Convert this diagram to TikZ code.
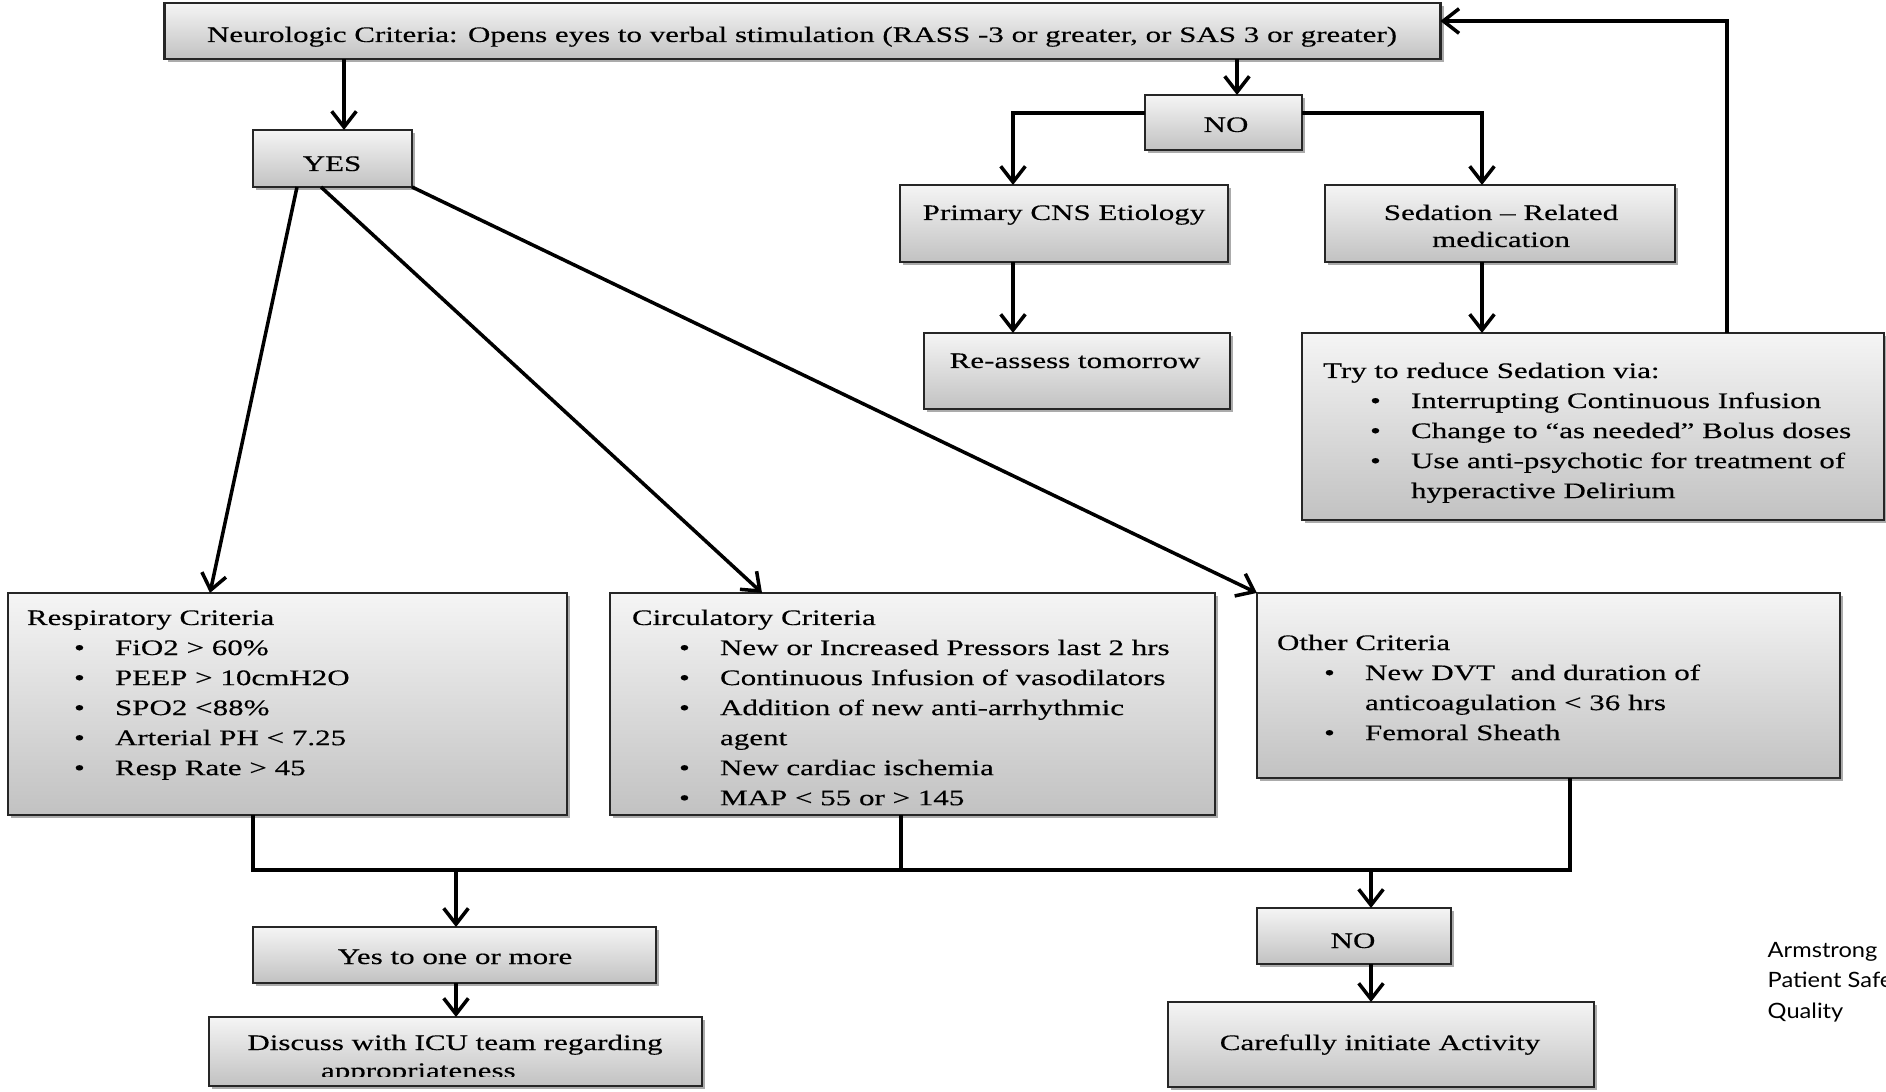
\documentclass[tikz,border=0pt]{standalone}
\usepackage{fontspec}
\setmainfont[FakeStretch=1.4,FakeBold=0.35]{Liberation Serif}
\newfontfamily\gillfont[FakeStretch=1.12]{Lato}
\usetikzlibrary{arrows.meta,shadows}
\newcommand{\bitem}[1]{\hspace*{0.47cm}\makebox[0.41cm][l]{\textbullet}#1}
\newcommand{\contl}[1]{\hspace*{0.88cm}#1}
\begin{document}
\begin{tikzpicture}[x=0.01cm,y=-0.01cm,
  bx/.style={draw=black!85, line width=0.7pt, top color=black!4, bottom color=black!24,
    inner sep=0pt, outer sep=0pt,
    drop shadow={shadow xshift=0.9pt, shadow yshift=-0.9pt, fill=black!60, opacity=0.55}},
  tx/.style={inner sep=0pt, outer sep=0pt, font=\fontsize{6.3}{8.54}\selectfont},
  arr/.style={line width=1pt, -{Straight Barb[length=4.5pt,width=7pt]}},
  ln/.style={line width=1pt}]
\fill[white] (0,0) rectangle (1886,1092);
\useasboundingbox (0,0) rectangle (1886,1092);

% boxes
\node[bx, minimum width=12.75cm, minimum height=0.56cm] (top) at (802.5,31) {};
\node[bx, minimum width=1.59cm, minimum height=0.57cm] (yes) at (332.5,158.5) {};
\node[bx, minimum width=1.57cm, minimum height=0.55cm] (no1) at (1223.5,122.5) {};
\node[bx, minimum width=3.28cm, minimum height=0.77cm] (prim) at (1064,223.5) {};
\node[bx, minimum width=3.50cm, minimum height=0.77cm] (sed) at (1500,223.5) {};
\node[bx, minimum width=3.06cm, minimum height=0.76cm] (reas) at (1077,371) {};
\node[bx, minimum width=5.82cm, minimum height=1.87cm] (try) at (1593,426.5) {};
\node[bx, minimum width=5.59cm, minimum height=2.22cm] (resp) at (287.5,704) {};
\node[bx, minimum width=6.05cm, minimum height=2.22cm] (circ) at (912.5,704) {};
\node[bx, minimum width=5.83cm, minimum height=1.85cm] (other) at (1548.5,685.5) {};
\node[bx, minimum width=4.03cm, minimum height=0.56cm] (yesto) at (454.5,955) {};
\node[bx, minimum width=4.93cm, minimum height=0.69cm] (disc) at (455.5,1051.5) {};
\node[bx, minimum width=1.94cm, minimum height=0.56cm] (no2) at (1354,936) {};
\node[bx, minimum width=4.26cm, minimum height=0.85cm] (care) at (1381,1044.5) {};

% texts
\node[tx, anchor=base] (ttop) at (802,42) {Neurologic Criteria: Opens eyes to verbal stimulation (RASS -3 or greater, or SAS 3 or greater)};
\node[tx, anchor=base] (tyes) at (332,171) {YES};
\node[tx, anchor=base] (tno1) at (1226,132) {NO};
\node[tx, anchor=base] (tprim) at (1064,220) {Primary CNS Etiology};
\node[tx, anchor=base] (tsed) at (1501,220) {\parbox[t]{3.4cm}{\centering\fontsize{6.3}{7.68}\selectfont Sedation – Related\\medication}};
\node[tx, anchor=base] (treas) at (1075,368) {Re-assess tomorrow};
\node[tx, anchor=base west] (ttry) at (1323,378) {\parbox[t]{10cm}{Try to reduce Sedation via:\\
  \bitem{Interrupting Continuous Infusion}\\
  \bitem{Change to “as needed” Bolus doses}\\
  \bitem{Use anti-psychotic for treatment of}\\
  \contl{hyperactive Delirium}}};
\node[tx, anchor=base west] (tresp) at (27,625) {\parbox[t]{10cm}{Respiratory Criteria\\
  \bitem{FiO2 > 60\%}\\
  \bitem{PEEP > 10cmH2O}\\
  \bitem{SPO2 <88\%}\\
  \bitem{Arterial PH < 7.25}\\
  \bitem{Resp Rate > 45}}};
\node[tx, anchor=base west] (tcirc) at (632,625) {\parbox[t]{10cm}{Circulatory Criteria\\
  \bitem{New or Increased Pressors last 2 hrs}\\
  \bitem{Continuous Infusion of vasodilators}\\
  \bitem{Addition of new anti-arrhythmic}\\
  \contl{agent}\\
  \bitem{New cardiac ischemia}\\
  \bitem{MAP < 55 or > 145}}};
\node[tx, anchor=base west] (tother) at (1277,650) {\parbox[t]{10cm}{Other Criteria\\
  \bitem{New DVT\ \ and duration of}\\
  \contl{anticoagulation < 36 hrs}\\
  \bitem{Femoral Sheath}}};
\node[tx, anchor=base] (tyesto) at (455,964) {Yes to one or more};
\begin{scope}
\clip (209,1017) rectangle (702,1076);
\node[tx, anchor=base] (tdisc1) at (455,1050) {Discuss with ICU team regarding};
\node[tx, anchor=base west] (tdisc2) at (321,1078) {appropriateness};
\end{scope}
\node[tx, anchor=base] (tno2) at (1353,948) {NO};
\node[tx, anchor=base] (tcare) at (1380,1050) {Carefully initiate Activity};
\node[inner sep=0pt, anchor=base west, font=\gillfont\fontsize{6}{8.68}\selectfont] (arm) at (1767,957)
  {\parbox[t]{3cm}{Armstrong\\Patient Safe\\Quality}};

% helper coordinates
\coordinate (xA) at (344,0);
\coordinate (xB) at (1237,0);
\coordinate (yNO) at (0,113);
\coordinate (xC) at (1013,0);
\coordinate (xD) at (1482,0);
\coordinate (xF) at (1727,0);
\coordinate (yF) at (0,21);
\coordinate (xG) at (297,0);
\coordinate (xH) at (210,0);
\coordinate (xI) at (321,0);
\coordinate (xJ) at (762,0);
\coordinate (jL) at (253,870);
\coordinate (jR) at (1570,870);
\coordinate (xM) at (901,0);
\coordinate (xN) at (456,0);
\coordinate (xO) at (1371,0);

% connectors
\draw[arr] (top.south -| xA) -- (yes.north -| xA);
\draw[arr] (top.south -| xB) -- (no1.north -| xB);
\draw[arr] (no1.west |- yNO) -| (prim.north -| xC);
\draw[arr] (no1.east |- yNO) -| (sed.north -| xD);
\draw[arr] (prim.south -| xC) -- (reas.north -| xC);
\draw[arr] (sed.south -| xD) -- (try.north -| xD);
\draw[arr] (try.north -| xF) |- (top.east |- yF);
\draw[arr] (yes.south -| xG) -- (resp.north -| xH);
\draw[arr] (yes.south -| xI) -- (circ.north -| xJ);
\draw[arr] (yes.south east) -- (other.north west);
\draw[ln] (resp.south -| jL) -- (jL) -- (jR) -- (other.south -| jR);
\draw[ln] (circ.south -| xM) -- (xM |- jL);
\draw[arr] (xN |- jL) -- (yesto.north -| xN);
\draw[arr] (yesto.south -| xN) -- (disc.north -| xN);
\draw[arr] (xO |- jL) -- (no2.north -| xO);
\draw[arr] (no2.south -| xO) -- (care.north -| xO);
\end{tikzpicture}
\end{document}
